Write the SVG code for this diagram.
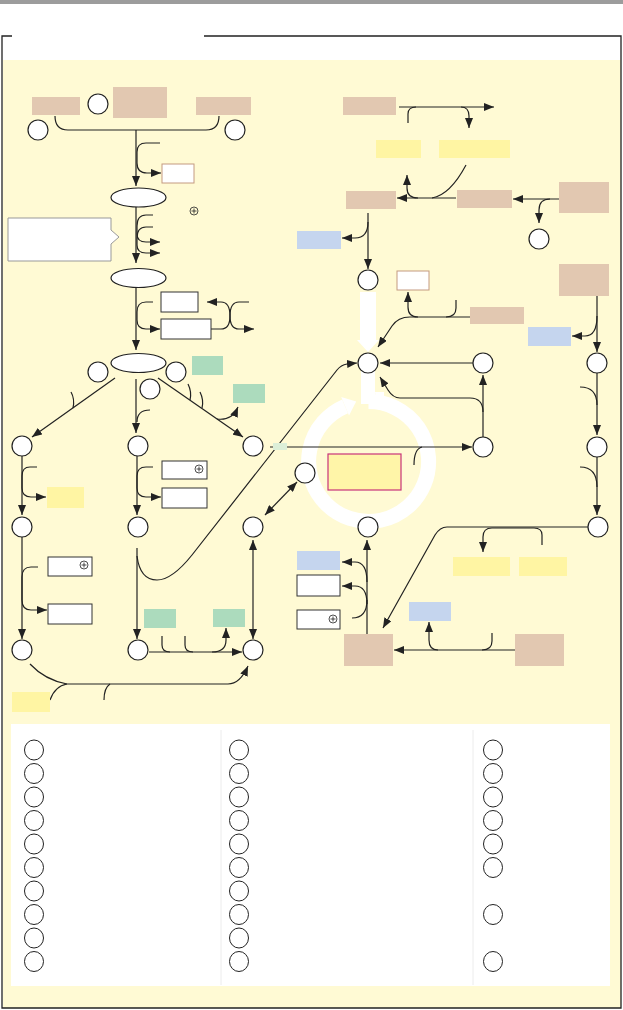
<svg xmlns="http://www.w3.org/2000/svg" width="623" height="1010" viewBox="0 0 623 1010">
<style>
.c{fill:#fff;stroke:#222;stroke-width:1.2}
.tan{fill:#e2c8b1}
.yel{fill:#fff5a3}
.grn{fill:#acdbbd}
.blu{fill:#c5d5ee}
.wb{fill:#fff;stroke:#333;stroke-width:1}
.wt{fill:#fff;stroke:#c49a80;stroke-width:1}
.ln{fill:none;stroke:#222;stroke-width:1.2}
.ar{marker-end:url(#ah)}
.da{marker-end:url(#ah);marker-start:url(#ah)}
.pl{fill:none;stroke:#222;stroke-width:0.8}
.lg{fill:none;stroke:#222;stroke-width:1}
</style>
<defs>
<marker id="ah" markerUnits="userSpaceOnUse" markerWidth="10" markerHeight="8" refX="10" refY="4" orient="auto-start-reverse">
<path d="M0,0 L10,4 L0,8 Z" fill="#222"/>
</marker>
<g id="plus"><circle r="4" class="pl"/><path d="M-2.5,0H2.5M0,-2.5V2.5" class="pl"/></g>
</defs>

<!-- page background -->
<rect x="0" y="0" width="623" height="1010" fill="#fff"/>
<rect x="0" y="0" width="623" height="4" fill="#9c9c9c"/>
<rect x="3" y="60" width="618" height="948" fill="#fffad4"/>
<path d="M12,36 H2 V1008 H621 V36 H204" fill="none" stroke="#222" stroke-width="1.3"/>

<!-- white cycle ring -->
<g id="cycle-ring">
<rect x="360" y="292" width="16" height="49" fill="#fff"/>
<polygon points="357,340 379,340 368,352" fill="#fff"/>
<rect x="361" y="370" width="14" height="34" fill="#fff"/>
<path d="M375,392 Q375,400 384,402 L384,392 Z" fill="#fff"/>
<path d="M368.5,401.5 A60,60 0 1 1 345.1,406.3" fill="none" stroke="#fff" stroke-width="15"/>
<polygon points="341.2,397.1 349,415.5 356.2,401.6" fill="#fff"/>
</g>

<!-- connectors -->
<g id="connectors">
<path class="ln" d="M55,116 Q55,130 68,130 H206 Q219,130 219,116"/>
<path class="ln ar" d="M136,130 V186"/>
<path class="ln ar" d="M160,143 H146 Q137,143 137,152 V163 Q137,173 147,173 H161"/>
<path class="ln ar" d="M136,207 V263"/>
<path class="ln ar" d="M153,215 H146 Q137,215 137,226 V234 Q137,242 146,242 H160"/>
<path class="ln ar" d="M153,227 H146 Q137,227 137,238 V245 Q137,253 146,253 H160"/>
<path class="ln ar" d="M136,288 V350"/>
<path class="ln ar" d="M153,302 H146 Q137,302 137,312 V320 Q137,329 146,329 H160"/>
<path class="ln ar" d="M211,329 H221 Q230,329 230,316 Q230,302 221,302 H207"/>
<path class="ln ar" d="M249,302 H239 Q230,302 230,316 Q230,329 239,329 H254"/>
<path class="ln ar" d="M115,378 L32,437"/>
<path class="ln" d="M71,392 Q75,399 73,408"/>
<path class="ln ar" d="M136,379 V433"/>
<path class="ln" d="M150,410 Q137,410 137,422"/>
<path class="ln ar" d="M158,378 L243,437"/>
<path class="ln" d="M188,384 Q192,392 190,400"/>
<path class="ln" d="M200,392 Q204,400 202,408"/>
<path class="ln ar" d="M217,419 Q232,421 238,407"/>
<path class="ln ar" d="M22,456 V515"/>
<path class="ln ar" d="M37,467 H30 Q22,467 22,476 V488 Q22,497 31,497 H46"/>
<path class="ln ar" d="M137,456 V515"/>
<path class="ln ar" d="M153,467 H146 Q137,467 137,476 V488 Q137,497 146,497 H161"/>
<path class="ln ar" d="M270,447 H472"/>
<path class="ln" d="M422,447 Q414,449 414,465"/>
<path class="ln da" d="M265,515 L297,482"/>
<path class="ln ar" d="M137,556 Q140,580 157,580 Q172,580 192,555 L337,370 Q341,365 347,364 L357,363"/>
<path class="ln ar" d="M22,537 V639"/>
<path class="ln ar" d="M38,567 H31 Q22,567 22,577 V600 Q22,610 31,610 H47"/>
<path class="ln ar" d="M137,548 V639"/>
<path class="ln da" d="M253,540 V639"/>
<path class="ln ar" d="M149,652 H242"/>
<path class="ln" d="M162,636 V645 Q162,652 170,652"/>
<path class="ln" d="M185,636 V645 Q185,652 193,652"/>
<path class="ln ar" d="M212,652 Q226,652 226,640 V628"/>
<path class="ln ar" d="M30,664 Q45,680 67,684 H228 Q240,684 248,666"/>
<path class="ln" d="M50,700 Q55,686 67,684"/>
<path class="ln" d="M110,684 Q104,688 104,700"/>
<path class="ln ar" d="M399,107 H494"/>
<path class="ln" d="M408,123 V114 Q408,107 416,107"/>
<path class="ln ar" d="M461,107 Q469,107 469,116 V128"/>
<path class="ln ar" d="M456,198 H397"/>
<path class="ln ar" d="M418,198 Q407,198 407,188 V175"/>
<path class="ln" d="M466,165 Q450,195 432,198"/>
<path class="ln ar" d="M559,199 H513"/>
<path class="ln ar" d="M550,199 Q539,199 539,210 V223"/>
<path class="ln ar" d="M368,213 V269"/>
<path class="ln ar" d="M368,222 Q368,238 355,238 H342"/>
<path class="ln ar" d="M470,317 H410 Q398,317 392,326 L378,347"/>
<path class="ln ar" d="M418,317 Q408,317 408,307 V292"/>
<path class="ln" d="M456,300 V308 Q456,317 446,317"/>
<path class="ln ar" d="M597,296 V352"/>
<path class="ln ar" d="M597,316 Q597,336 585,336 H572"/>
<path class="ln ar" d="M473,363 H380"/>
<path class="ln ar" d="M483,437 V375"/>
<path class="ln ar" d="M483,412 Q483,398 470,398 H400 Q393,398 388,390 L380,377"/>
<path class="ln ar" d="M597,373 V435"/>
<path class="ln" d="M580,387 Q597,387 597,405"/>
<path class="ln ar" d="M597,457 V515"/>
<path class="ln" d="M580,467 Q597,467 597,487"/>
<path class="ln ar" d="M367,634 V540"/>
<path class="ln ar" d="M367,582 Q367,562 355,562 H342"/>
<path class="ln ar" d="M367,604 Q367,586 355,586 H342"/>
<path class="ln" d="M352,618 Q367,618 367,600"/>
<path class="ln ar" d="M515,650 H394"/>
<path class="ln" d="M492,633 V641 Q492,650 482,650"/>
<path class="ln ar" d="M438,650 Q429,650 429,640 V622"/>
<path class="ln ar" d="M588,527 H447 Q440,527 435,535 L383,628"/>
<path class="ln ar" d="M542,545 V535 Q542,528 534,528 H492 Q483,528 483,537 V552"/>
</g>

<!-- callout -->
<g id="callout"><path d="M8,218 H111 V230 L119,237 L111,244 V261 H8 Z" fill="#fff" stroke="#999" stroke-width="1"/></g>

<!-- tan boxes -->
<g id="tan1"><rect class="tan" x="32" y="97" width="48" height="18"/></g>
<g id="tan2"><rect class="tan" x="113" y="87" width="54" height="31"/></g>
<g id="tan3"><rect class="tan" x="196" y="97" width="55" height="18"/></g>
<g id="tan4"><rect class="tan" x="343" y="97" width="53" height="18"/></g>
<g id="tan5"><rect class="tan" x="346" y="191" width="50" height="18"/></g>
<g id="tan6"><rect class="tan" x="457" y="190" width="55" height="18"/></g>
<g id="tan7"><rect class="tan" x="559" y="182" width="50" height="31"/></g>
<g id="tan8"><rect class="tan" x="470" y="307" width="54" height="17"/></g>
<g id="tan9"><rect class="tan" x="559" y="264" width="50" height="32"/></g>
<g id="tan10"><rect class="tan" x="344" y="634" width="49" height="32"/></g>
<g id="tan11"><rect class="tan" x="515" y="634" width="49" height="32"/></g>

<!-- yellow boxes -->
<g id="yel1"><rect class="yel" x="376" y="140" width="45" height="18"/></g>
<g id="yel2"><rect class="yel" x="439" y="140" width="71" height="18"/></g>
<g id="yel3"><rect class="yel" x="47" y="487" width="37" height="21"/></g>
<g id="yel4"><rect class="yel" x="453" y="557" width="57" height="19"/></g>
<g id="yel5"><rect class="yel" x="519" y="557" width="48" height="19"/></g>
<g id="yel6"><rect class="yel" x="12" y="692" width="38" height="20"/></g>
<g id="center-box"><rect x="328" y="454" width="73" height="36" fill="#fff5a8" stroke="#c8327a" stroke-width="1.2"/></g>

<!-- green boxes -->
<g id="grn1"><rect class="grn" x="192" y="356" width="31" height="19"/></g>
<g id="grn2"><rect class="grn" x="233" y="384" width="32" height="19"/></g>
<g id="grn3"><rect class="grn" x="144" y="609" width="32" height="19"/></g>
<g id="grn4"><rect class="grn" x="213" y="609" width="32" height="18"/></g>
<rect x="273" y="443" width="14" height="7" fill="#dcefd8"/>

<!-- blue boxes -->
<g id="blu1"><rect class="blu" x="297" y="231" width="44" height="18"/></g>
<g id="blu2"><rect class="blu" x="528" y="327" width="43" height="19"/></g>
<g id="blu3"><rect class="blu" x="297" y="551" width="43" height="19"/></g>
<g id="blu4"><rect class="blu" x="409" y="602" width="42" height="19"/></g>

<!-- white boxes -->
<g id="wt1"><rect class="wt" x="162" y="164" width="32" height="19"/></g>
<g id="wt2"><rect class="wt" x="397" y="271" width="32" height="19"/></g>
<g id="wb1"><rect class="wb" x="161" y="292" width="37" height="20"/></g>
<g id="wb2"><rect class="wb" x="161" y="319" width="50" height="20"/></g>
<g id="wb3"><rect class="wb" x="162" y="461" width="45" height="18"/><use href="#plus" x="199" y="469"/></g>
<g id="wb4"><rect class="wb" x="162" y="488" width="45" height="20"/></g>
<g id="wb5"><rect class="wb" x="48" y="557" width="44" height="19"/><use href="#plus" x="84" y="565"/></g>
<g id="wb6"><rect class="wb" x="48" y="604" width="44" height="20"/></g>
<g id="wb7"><rect class="wb" x="297" y="575" width="43" height="21"/></g>
<g id="wb8"><rect class="wb" x="297" y="610" width="43" height="19"/><use href="#plus" x="333" y="619"/></g>
<g id="plus-top"><use href="#plus" x="194" y="211"/></g>

<!-- ellipses -->
<g id="ell1"><ellipse class="c" cx="138.5" cy="197.5" rx="27.5" ry="9.5"/></g>
<g id="ell2"><ellipse class="c" cx="138.5" cy="278" rx="27.5" ry="9.5"/></g>
<g id="ell3"><ellipse class="c" cx="138.5" cy="363" rx="27.5" ry="9.5"/></g>

<!-- circles -->
<g id="circles">
<circle class="c" cx="98" cy="104" r="10"/>
<circle class="c" cx="38" cy="130" r="10"/>
<circle class="c" cx="235" cy="130" r="10"/>
<circle class="c" cx="98" cy="372" r="10"/>
<circle class="c" cx="176" cy="372" r="10"/>
<circle class="c" cx="150" cy="389" r="10"/>
<circle class="c" cx="22" cy="446" r="10"/>
<circle class="c" cx="138" cy="446" r="10"/>
<circle class="c" cx="253" cy="446" r="10"/>
<circle class="c" cx="22" cy="527" r="10"/>
<circle class="c" cx="138" cy="527" r="10"/>
<circle class="c" cx="253" cy="527" r="10"/>
<circle class="c" cx="22" cy="650" r="10"/>
<circle class="c" cx="138" cy="650" r="10"/>
<circle class="c" cx="253" cy="650" r="10"/>
<circle class="c" cx="305" cy="473" r="10"/>
<circle class="c" cx="368" cy="280" r="10"/>
<circle class="c" cx="368" cy="363" r="10"/>
<circle class="c" cx="483" cy="363" r="10"/>
<circle class="c" cx="483" cy="447" r="10"/>
<circle class="c" cx="368" cy="527" r="10"/>
<circle class="c" cx="539" cy="239" r="10"/>
<circle class="c" cx="597" cy="363" r="10"/>
<circle class="c" cx="597" cy="447" r="10"/>
<circle class="c" cx="598" cy="527" r="10"/>
</g>

<!-- legend -->
<g id="legend">
<rect x="11" y="724" width="599" height="262" fill="#fff"/>
<path d="M221,730 V985 M473,730 V985" stroke="#ececec" stroke-width="1"/>
<g class="lg">
<ellipse cx="34" cy="750" rx="9.5" ry="10"/><ellipse cx="34" cy="773.5" rx="9.5" ry="10"/><ellipse cx="34" cy="797" rx="9.5" ry="10"/><ellipse cx="34" cy="820.5" rx="9.5" ry="10"/><ellipse cx="34" cy="844" rx="9.5" ry="10"/><ellipse cx="34" cy="867.5" rx="9.5" ry="10"/><ellipse cx="34" cy="891" rx="9.5" ry="10"/><ellipse cx="34" cy="914.5" rx="9.5" ry="10"/><ellipse cx="34" cy="938" rx="9.5" ry="10"/><ellipse cx="34" cy="961.5" rx="9.5" ry="10"/>
<ellipse cx="239" cy="750" rx="9.5" ry="10"/><ellipse cx="239" cy="773.5" rx="9.5" ry="10"/><ellipse cx="239" cy="797" rx="9.5" ry="10"/><ellipse cx="239" cy="820.5" rx="9.5" ry="10"/><ellipse cx="239" cy="844" rx="9.5" ry="10"/><ellipse cx="239" cy="867.5" rx="9.5" ry="10"/><ellipse cx="239" cy="891" rx="9.5" ry="10"/><ellipse cx="239" cy="914.5" rx="9.5" ry="10"/><ellipse cx="239" cy="938" rx="9.5" ry="10"/><ellipse cx="239" cy="961.5" rx="9.5" ry="10"/>
<ellipse cx="493" cy="750" rx="9.5" ry="10"/><ellipse cx="493" cy="773.5" rx="9.5" ry="10"/><ellipse cx="493" cy="797" rx="9.5" ry="10"/><ellipse cx="493" cy="820.5" rx="9.5" ry="10"/><ellipse cx="493" cy="844" rx="9.5" ry="10"/><ellipse cx="493" cy="867.5" rx="9.5" ry="10"/><ellipse cx="493" cy="914.5" rx="9.5" ry="10"/><ellipse cx="493" cy="961.5" rx="9.5" ry="10"/>
</g>
</g>
</svg>
